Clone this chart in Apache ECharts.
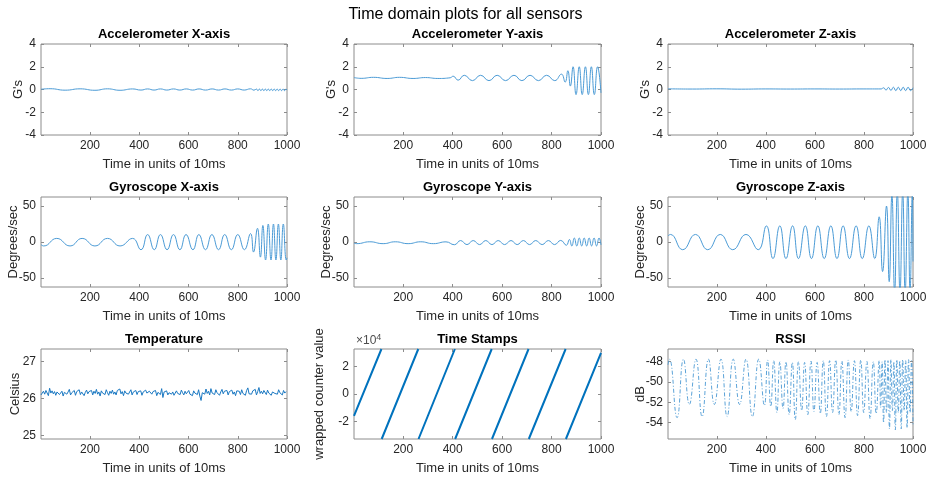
<!DOCTYPE html>
<html><head><meta charset="utf-8">
<script src="https://cdn.jsdelivr.net/npm/echarts@6/dist/echarts.min.js"></script>
<style>html,body{margin:0;padding:0;background:#fff}#c{width:931px;height:477px}</style>
</head><body><div id="c"></div>
<script>
// ---------------- DATA ----------------
const xTicks = [200, 400, 600, 800, 1000];
const accTicks = [-4, -2, 0, 2, 4];
const gyroTicks = [-50, 0, 50];
const tempTicks = [25, 26, 27];
const stampTicks = [-20000, 0, 20000];
const rssiTicks = [-54, -52, -50, -48];

const accX = [[1,0.02],[38,0.07],[99,-0.06],[160,0.06],[220,-0.07],[271,0.06],[322,-0.07],[373,0.05],[407,-0.05],[434,0.05],[460,-0.05],[486,0.05],[512,-0.05],[539,0.05],[565,-0.05],[591,0.05],[617,-0.05],[643,0.05],[669,-0.05],[696,0.05],[722,-0.05],[748,0.05],[774,-0.05],[800,0.05],[826,-0.05],[852,0.06],[866,-0.06],[876,0.04],[882,-0.1],[888,0.04],[894,-0.1],[900,0.04],[906,-0.1],[912,0.04],[918,-0.1],[924,0.04],[930,-0.1],[936,0.04],[942,-0.1],[948,0.04],[954,-0.1],[960,0.04],[966,-0.1],[972,0.04],[978,-0.1],[984,0.04],[990,-0.1],[996,0.04],[1000,-0.05]];

const accY = [[1,1.05],[30,0.98],[80,1.07],[135,0.97],[185,1.07],[240,0.97],[290,1.05],[340,0.97],[390,1.03],[402,1.17],[422,0.82],[447,1.25],[480,0.78],[513,1.25],[547,0.78],[580,1.25],[614,0.78],[648,1.25],[680,0.78],[713,1.25],[747,0.78],[780,1.25],[813,0.78],[840,1.35],[855,0.65],[866,1.65],[876,0.3],[887,2.0],[899,-0.45],[912,2.0],[924,-0.45],[937,2.0],[949,-0.45],[961,2.0],[973,-0.45],[986,2.0],[1000,-0.3]];

const accZ = [[1,0.06],[100,0.04],[200,0.06],[300,0.03],[400,0.05],[500,0.04],[600,0.05],[700,0.04],[800,0.05],[870,0.05],[880,0.15],[890,-0.05],[900,0.18],[910,-0.08],[920,0.2],[930,-0.1],[940,0.2],[950,-0.1],[960,0.2],[970,-0.1],[980,0.2],[990,-0.1],[1000,0.15]];

const gyroX = [[1,-3.5],[12,-5.5],[65,5],[119,-5.5],[168,5],[220,-5.5],[271,5],[322,-5.5],[373,5],[407,-10.7],[434,10.3],[461,-10.7],[486,10.3],[513,-10.7],[539,10.3],[565,-10.7],[590,10.3],[618,-10.7],[642,10.3],[669,-10.7],[695,10.3],[722,-10.7],[747,10.3],[774,-10.7],[800,10.3],[827,-10.7],[852,11.7],[864,-14],[880,19],[892,-21],[902,23],[913,-25],[924,25],[935,-25],[945,25],[955,-25],[965,25],[975,-25],[985,25],[997,-25],[1000,-22]];

const gyroY = [[1,-1.5],[12,-2.3],[65,0.3],[119,-2.3],[168,0.3],[220,-2.3],[271,0.3],[322,-2.3],[373,0.2],[407,-3.8],[432,2.0],[458,-3.6],[483,2.0],[509,-3.6],[534,2.0],[559,-3.6],[584,2.0],[610,-3.6],[636,2.0],[661,-3.6],[686,2.0],[711,-3.6],[736,2.0],[762,-3.6],[787,2.0],[812,-3.6],[837,2.2],[860,-4.5],[872,3.5],[882,-5.5],[892,5.5],[902,-5.5],[912,5.5],[922,-5.5],[932,5.5],[942,-5.5],[952,5.5],[962,-5.5],[972,5.5],[982,-5.5],[992,5.5],[1000,-4]];

const gyroZ = [[1,8.5],[11,10.5],[61,-10.7],[113,10.5],[163,-10.7],[214,10.5],[265,-10.7],[319,10.5],[369,-10.7],[402,22.4],[429,-23],[457,22.4],[482,-23],[509,22.4],[533,-23],[561,22.4],[586,-23],[612,22.4],[638,-23],[665,22.4],[690,-23],[715,22.4],[741,-23],[768,22.4],[793,-23],[820,22.4],[844,-23],[862,35],[876,-41],[892,50],[903,-55],[914,66],[925,-70],[936,70],[947,-70],[958,70],[968,-70],[979,70],[988,-70],[997,68],[1000,-27]];

const tempStart = 1, tempStep = 5;
const temperature = [
26.10,26.14,26.20,26.12,26.22,26.17,26.08,26.28,26.15,26.21,
26.13,26.19,26.09,26.18,26.23,26.11,26.16,26.20,26.07,26.17,
26.21,26.12,26.18,26.25,26.10,26.16,26.13,26.22,26.09,26.19,
26.14,26.24,26.11,26.18,26.20,26.08,26.17,26.23,26.13,26.19,
26.16,26.22,26.10,26.20,26.14,26.25,26.12,26.18,26.07,26.21,
26.15,26.19,26.11,26.24,26.16,26.09,26.20,26.14,26.23,26.12,
26.18,26.10,26.22,26.17,26.26,26.13,26.19,26.08,26.21,26.15,
26.20,26.12,26.17,26.24,26.10,26.18,26.14,26.22,26.11,26.19,
26.16,26.21,26.09,26.18,26.13,26.23,26.15,26.11,26.20,26.17,
26.12,26.19,26.14,26.22,26.08,26.17,26.21,26.11,26.27,26.03,
26.18,26.13,26.21,26.10,26.16,26.20,26.12,26.18,26.09,26.15,
26.21,26.14,26.19,26.11,26.23,26.16,26.10,26.20,26.13,26.18,
26.22,26.12,26.17,26.08,26.21,26.15,26.19,26.11,26.24,26.07,
25.95,26.16,26.21,26.12,26.26,26.14,26.20,26.10,26.27,26.15,
26.19,26.11,26.24,26.16,26.21,26.09,26.18,26.25,26.13,26.20,
26.15,26.22,26.10,26.19,26.14,26.23,26.12,26.18,26.08,26.21,
26.16,26.20,26.11,26.24,26.14,26.19,26.09,26.22,26.29,26.13,
26.18,26.12,26.21,26.16,26.25,26.10,26.19,26.30,26.14,26.20,
26.13,26.22,26.17,26.11,26.23,26.15,26.20,26.09,26.18,26.21,
26.14,26.19,26.12,26.24,26.16,26.20,26.10,26.22,26.15,26.19];

// wrapped counter ramps: [xStart, yStart, xEnd, yEnd]
const stampRamps = [[1,-15900,112,32767],[113,-32768,261,32767],[262,-32768,409,32767],[410,-32768,558,32767],[559,-32768,707,32767],[708,-32768,857,32767],[858,-32768,1000,30000]];

const rssi = [[1,-48.3],[7,-47.75],[38,-53.5],[64,-47.75],[88,-52.2],[115,-47.75],[140,-53.4],[166,-47.75],[190,-52.2],[217,-47.75],[242,-53.4],[267,-47.75],[293,-52.2],[319,-47.75],[345,-53.4],[371,-47.75],[394,-52.3],
[407,-47.83],[420,-52.4],[432,-47.9],[445,-53.0],[457,-48.0],[470,-52.6],[482,-48.0],[495,-53.2],[508,-48.07],[520,-53.7],[533,-48.0],[546,-52.8],[558,-48.07],[571,-53.2],[584,-47.93],[596,-52.9],[609,-48.07],[622,-53.1],[634,-47.9],[647,-53.4],[660,-47.9],[672,-53.0],[685,-47.83],[698,-53.2],[710,-47.93],[723,-53.5],[736,-47.83],[748,-52.9],[761,-47.9],[774,-53.3],[787,-47.83],[799,-53.0],[812,-47.97],[825,-53.6],[838,-48.0],[850,-53.1],
[862,-47.9],[868,-52.5],[874,-48.0],[880,-54.0],[886,-47.8],[892,-53.0],[898,-47.9],[904,-54.6],[910,-47.8],[916,-52.8],[922,-48.0],[928,-54.7],[934,-47.8],[940,-53.0],[946,-47.9],[952,-54.6],[958,-47.8],[964,-52.8],[970,-47.9],[976,-54.5],[982,-47.8],[988,-53.0],[994,-47.9],[1000,-54.2]];

// ---------------- LAYOUT / STYLE ----------------
const FONT = '"Liberation Sans", Arial, Helvetica, sans-serif';
const colLeft = [41, 354, 668];
const colW = [246, 247, 245];
const rowTop = [44, 197, 349];
const rowH = [91, 90, 90];
const AXC = '#8c8c8c';
const TXT = '#262626';

const tempData = temperature.map((v, i) => [tempStart + i * tempStep, v]);
const stampData = [];
stampRamps.forEach((r, i) => {
  if (i > 0) stampData.push([r[0] - 0.5, '-']);
  stampData.push([r[0], r[1]], [r[2], r[3]]);
});

const thin = {color: '#4b9bd6', width: 1};
const panels = [
  {title: 'Accelerometer X-axis', yName: "G's", gap: 16, min: -4, max: 4, ticks: accTicks, data: accX, smooth: true, line: thin},
  {title: 'Accelerometer Y-axis', yName: "G's", gap: 16, min: -4, max: 4, ticks: accTicks, data: accY, smooth: true, line: thin},
  {title: 'Accelerometer Z-axis', yName: "G's", gap: 16, min: -4, max: 4, ticks: accTicks, data: accZ, smooth: true, line: thin},
  {title: 'Gyroscope X-axis', yName: 'Degrees/sec', gap: 21.5, min: -62.5, max: 62.5, ticks: gyroTicks, data: gyroX, smooth: true, line: thin},
  {title: 'Gyroscope Y-axis', yName: 'Degrees/sec', gap: 21.5, min: -62.5, max: 62.5, ticks: gyroTicks, data: gyroY, smooth: true, line: thin},
  {title: 'Gyroscope Z-axis', yName: 'Degrees/sec', gap: 21.5, min: -62.5, max: 62.5, ticks: gyroTicks, data: gyroZ, smooth: true, line: thin},
  {title: 'Temperature', yName: 'Celsius', gap: 19.5, min: 24.91, max: 27.34, ticks: tempTicks, data: tempData, smooth: false, line: {color: '#1a78c2', width: 1}},
  {title: 'Time Stamps', yName: 'wrapped counter value', gap: 28.5, min: -32768, max: 32767, ticks: stampTicks, fmt: v => String(v / 10000), data: stampData, smooth: false, line: {color: '#0072BD', width: 2}},
  {title: 'RSSI', yName: 'dB', gap: 21, min: -55.6, max: -46.75, ticks: rssiTicks, data: rssi, smooth: true, line: {color: '#4a98d4', width: 0.9, type: [4, 2, 1, 2]}}
];

const grids = [], xAxes = [], yAxes = [], series = [];
const titles = [{text: 'Time domain plots for all sensors', left: 465.5, top: 7, textAlign: 'center', padding: 0,
  textStyle: {fontSize: 16, fontWeight: 'normal', color: '#000', fontFamily: FONT, lineHeight: 16}}];

panels.forEach((p, i) => {
  const r = Math.floor(i / 3), c = i % 3;
  const left = colLeft[c], top = rowTop[r], w = colW[c], h = rowH[r];
  grids.push({left, top, width: w, height: h, show: true, borderColor: AXC, borderWidth: 1, backgroundColor: 'transparent', containLabel: false});
  const tickStyle = {inside: true, length: 3, lineStyle: {color: AXC, width: 1}};
  const noLine = {show: false, onZero: false};
  xAxes.push({gridIndex: i, type: 'value', min: 1, max: 1000, position: 'bottom',
    name: 'Time in units of 10ms', nameLocation: 'middle', nameGap: 23, nameMoveOverlap: false,
    nameTextStyle: {fontSize: 13, color: TXT, fontFamily: FONT},
    axisLine: noLine, splitLine: {show: false},
    axisTick: Object.assign({customValues: xTicks}, tickStyle),
    axisLabel: {customValues: xTicks, margin: 5, fontSize: 12, color: TXT, fontFamily: FONT, formatter: v => String(v)}});
  xAxes.push({gridIndex: i, type: 'value', min: 1, max: 1000, position: 'top',
    axisLine: noLine, splitLine: {show: false}, axisLabel: {show: false},
    axisTick: Object.assign({customValues: xTicks}, tickStyle)});
  yAxes.push({gridIndex: i, type: 'value', min: p.min, max: p.max, position: 'left',
    name: p.yName, nameLocation: 'middle', nameGap: p.gap, nameMoveOverlap: false,
    nameTextStyle: {fontSize: 13, color: TXT, fontFamily: FONT},
    axisLine: noLine, splitLine: {show: false},
    axisTick: Object.assign({customValues: p.ticks}, tickStyle),
    axisLabel: {customValues: p.ticks, margin: 5, fontSize: 12, color: TXT, fontFamily: FONT,
      formatter: p.fmt || (v => String(v))}});
  yAxes.push({gridIndex: i, type: 'value', min: p.min, max: p.max, position: 'right',
    axisLine: noLine, splitLine: {show: false}, axisLabel: {show: false},
    axisTick: Object.assign({customValues: p.ticks}, tickStyle)});
  series.push({type: 'line', xAxisIndex: 2 * i, yAxisIndex: 2 * i, data: p.data,
    showSymbol: false, symbol: 'none', smooth: p.smooth, connectNulls: false, clip: true,
    lineStyle: p.line, emphasis: {disabled: true}, silent: true});
  titles.push({text: p.title, left: left + w / 2, top: top - 16, textAlign: 'center', padding: 0,
    textStyle: {fontSize: 13, fontWeight: 'bold', color: '#000', fontFamily: FONT, lineHeight: 13}});
});

const chart = echarts.init(document.getElementById('c'), null, {renderer: 'canvas'});
chart.setOption({
  animation: false,
  backgroundColor: '#fff',
  title: titles,
  grid: grids,
  xAxis: xAxes,
  yAxis: yAxes,
  series: series,
  graphic: [{type: 'text', left: 356, top: 333, silent: true,
    style: {text: '×10{s|4}', fill: '#4d4d4d', font: '12px ' + FONT,
      rich: {s: {fontSize: 9, fill: '#4d4d4d', fontFamily: FONT, padding: [0, 0, 7, 0]}}}}]
});
</script></body></html>
